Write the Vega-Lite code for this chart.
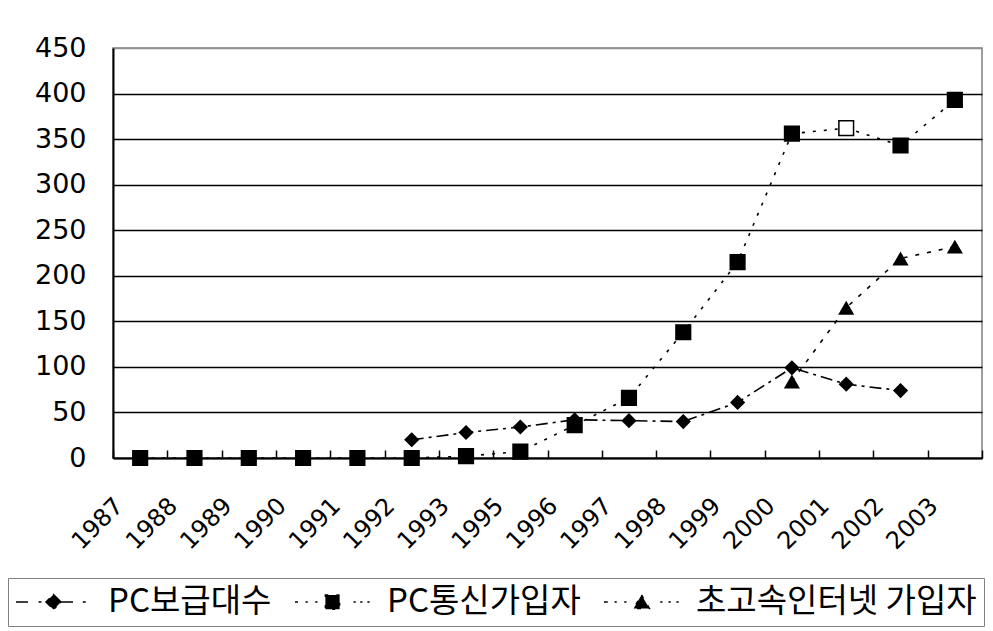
{
  "$schema": "https://vega.github.io/schema/vega-lite/v6.json",
  "autosize": {"type": "none"},
  "padding": {"left": 113, "top": 48, "right": 11, "bottom": 173},
  "width": 869,
  "height": 410,
  "background": "white",
  "config": {
    "view": {"stroke": "#808080", "strokeWidth": 1.5},
    "font": "DejaVu Sans"
  },
  "data": {
    "values": [
      {"year": "1992", "series": "PC보급대수", "value": 20},
      {"year": "1993", "series": "PC보급대수", "value": 28},
      {"year": "1995", "series": "PC보급대수", "value": 34},
      {"year": "1996", "series": "PC보급대수", "value": 42},
      {"year": "1997", "series": "PC보급대수", "value": 41},
      {"year": "1998", "series": "PC보급대수", "value": 40},
      {"year": "1999", "series": "PC보급대수", "value": 61},
      {"year": "2000", "series": "PC보급대수", "value": 99},
      {"year": "2001", "series": "PC보급대수", "value": 81},
      {"year": "2002", "series": "PC보급대수", "value": 74},
      {"year": "1987", "series": "PC통신가입자", "value": 0},
      {"year": "1988", "series": "PC통신가입자", "value": 0},
      {"year": "1989", "series": "PC통신가입자", "value": 0},
      {"year": "1990", "series": "PC통신가입자", "value": 0},
      {"year": "1991", "series": "PC통신가입자", "value": 0},
      {"year": "1992", "series": "PC통신가입자", "value": 0},
      {"year": "1993", "series": "PC통신가입자", "value": 2},
      {"year": "1995", "series": "PC통신가입자", "value": 7},
      {"year": "1996", "series": "PC통신가입자", "value": 36},
      {"year": "1997", "series": "PC통신가입자", "value": 66},
      {"year": "1998", "series": "PC통신가입자", "value": 138},
      {"year": "1999", "series": "PC통신가입자", "value": 215},
      {"year": "2000", "series": "PC통신가입자", "value": 356},
      {"year": "2001", "series": "PC통신가입자", "value": 362},
      {"year": "2002", "series": "PC통신가입자", "value": 343},
      {"year": "2003", "series": "PC통신가입자", "value": 393},
      {"year": "2000", "series": "초고속인터넷 가입자", "value": 84},
      {"year": "2001", "series": "초고속인터넷 가입자", "value": 165},
      {"year": "2002", "series": "초고속인터넷 가입자", "value": 219},
      {"year": "2003", "series": "초고속인터넷 가입자", "value": 232}
    ]
  },
  "encoding": {
    "x": {
      "field": "year",
      "type": "ordinal",
      "sort": null,
      "scale": {
        "type": "band",
        "domain": ["1987","1988","1989","1990","1991","1992","1993","1995","1996","1997","1998","1999","2000","2001","2002","2003"],
        "paddingInner": 0,
        "paddingOuter": 0
      },
      "axis": {
        "title": null,
        "tickBand": "extent",
        "domainColor": "black",
        "domainWidth": 2,
        "tickColor": "black",
        "tickWidth": 1.5,
        "tickSize": -8,
        "labelAngle": -45,
        "labelAlign": "right",
        "labelBaseline": "middle",
        "labelFont": "DejaVu Sans",
        "labelFontSize": 24,
        "labelColor": "black",
        "labelPadding": 52,
        "labelOffset": -21,
        "grid": false
      }
    },
    "y": {
      "field": "value",
      "type": "quantitative",
      "scale": {"domain": [0, 450], "nice": false},
      "axis": {
        "title": null,
        "values": [0, 50, 100, 150, 200, 250, 300, 350, 400, 450],
        "domainColor": "black",
        "domainWidth": 2,
        "ticks": false,
        "grid": true,
        "gridColor": {"condition": {"test": "datum.value === 450", "value": "#909090"}, "value": "black"},
        "gridWidth": 1.3,
        "labelFont": "DejaVu Sans",
        "labelFontSize": 27,
        "labelColor": "black",
        "labelPadding": 27
      }
    }
  },
  "layer": [
    {
      "mark": {"type": "line", "strokeWidth": 1.6, "color": "black"},
      "encoding": {
        "strokeDash": {
          "field": "series",
          "type": "nominal",
          "scale": {
            "domain": ["PC보급대수", "PC통신가입자", "초고속인터넷 가입자"],
            "range": [[12, 5, 3, 5], [3, 8], [4, 8]]
          },
          "legend": {
            "orient": "none",
            "legendX": -105,
            "legendY": 530,
            "direction": "horizontal",
            "title": null,
            "strokeColor": "#808080",
            "padding": 7,
            "clipHeight": 34,
            "symbolSize": 5625,
            "symbolStrokeWidth": 1.5,
            "symbolStrokeColor": "black",
            "symbolFillColor": "black",
            "labelFont": "Noto Sans CJK KR",
            "labelFontSize": 33,
            "labelColor": "black",
            "labelOffset": 16,
            "columnPadding": 22,
            "labelLimit": 500,
            "encode": {
              "symbols": {
                "update": {
                  "shape": {"signal": "datum.value === 'PC보급대수' ? 'M-1,0H-0.6M-0.4,0H-0.32M0,-0.2L0.2,0L0,0.2L-0.2,0ZM0.2,0H0.6M0.78,0H0.86' : datum.value === 'PC통신가입자' ? 'M-1,0H-0.9M-0.72,0H-0.66M-0.46,0H-0.4M-0.19,-0.19H0.19V0.19H-0.19ZM0.56,0H0.62M0.74,0H0.8M0.93,0H0.99' : 'M-1,0H-0.9M-0.72,0H-0.66M-0.46,0H-0.4M0,-0.19L0.21,0.17L-0.21,0.17ZM0.5,0H0.56M0.72,0H0.78M0.93,0H0.99'"},
                  "size": {"value": 5625},
                  "fill": {"value": "black"},
                  "stroke": {"value": "black"},
                  "strokeDash": {"value": [1, 0]},
                  "strokeWidth": {"value": 1.5},
                  "opacity": {"value": 1}
                }
              }
            }
          }
        }
      }
    },
    {
      "transform": [{"filter": "datum.series === 'PC보급대수'"}],
      "mark": {"type": "point", "shape": "diamond", "size": 230, "filled": true, "opacity": 1, "color": "black"}
    },
    {
      "transform": [{"filter": "datum.series === 'PC통신가입자'"}],
      "mark": {"type": "point", "shape": "square", "size": 215, "opacity": 1, "strokeWidth": 1.5, "stroke": "black"},
      "encoding": {
        "fill": {
          "condition": {"test": "datum.year === '2001'", "value": "white"},
          "value": "black"
        }
      }
    },
    {
      "transform": [{"filter": "datum.series === '초고속인터넷 가입자'"}],
      "mark": {"type": "point", "shape": "triangle-up", "size": 260, "filled": true, "opacity": 1, "color": "black"}
    }
  ]
}
